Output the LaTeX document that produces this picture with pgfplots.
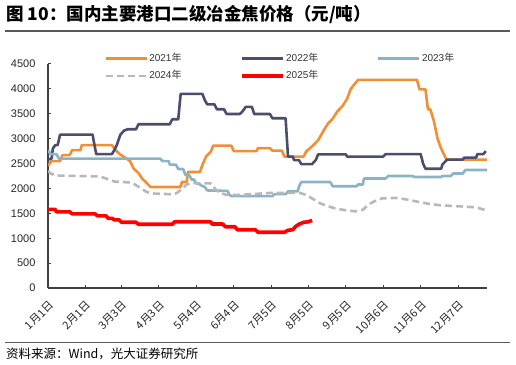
\documentclass[border=0pt]{standalone}
\usepackage{fontspec}
\setmainfont{Liberation Sans}
\newfontfamily\cjk{Noto Sans CJK SC}
\usepackage{pgfplots}
\usepackage{pgfplotstable}
\pgfplotsset{compat=1.18}
\definecolor{c21}{RGB}{242,142,52}
\definecolor{c22}{RGB}{76,76,110}
\definecolor{c23}{RGB}{138,178,200}
\definecolor{c24}{RGB}{184,184,184}
\definecolor{c25}{RGB}{255,0,0}
\definecolor{axc}{RGB}{64,64,64}

\pgfplotstableread{
d v
0 2460
3 2550
10 2550
12 2670
18 2670
20 2770
27 2770
28 2870
53 2870
56 2770
60 2680
65 2600
68 2550
71 2400
75 2310
78 2200
81 2130
85 2030
110 2030
111 2130
115 2130
116 2330
126 2330
128 2470
131 2640
135 2740
137 2860
152 2860
154 2750
173 2750
174 2810
184 2810
186 2760
194 2760
196 2640
212 2640
214 2740
220 2870
224 2970
228 3140
232 3300
236 3400
240 3550
244 3650
248 3800
251 4000
257 4180
306 4180
308 3990
313 3990
315 3590
317 3590
320 3350
323 3000
326 2800
330 2600
331 2580
364 2580
}\tA

\pgfplotstableread{
d v
0 2580
3 2600
4 2800
6 2870
8 2870
10 3080
37 3080
38 2940
40 2690
53 2690
55 2770
57 2870
60 3080
63 3160
66 3190
73 3190
75 3290
101 3290
103 3390
108 3390
110 3900
128 3900
130 3775
132 3690
138 3690
140 3590
146 3590
148 3495
159 3495
161 3540
164 3640
169 3640
171 3495
184 3495
186 3410
197 3410
199 2640
203 2640
204 2570
208 2570
210 2490
219 2490
222 2570
224 2685
247 2685
248 2640
278 2640
280 2690
309 2690
311 2500
313 2395
326 2395
327 2480
331 2580
344 2580
345 2620
355 2620
356 2690
361 2690
363 2750
}\tB

\pgfplotstableread{
d v
0 2770
2 2690
7 2690
9 2600
93 2600
95 2550
100 2550
101 2480
106 2480
108 2390
112 2390
114 2270
117 2270
119 2180
121 2180
123 2100
125 2100
127 2060
130 2030
132 1960
149 1950
150 1885
152 1845
186 1845
188 1885
197 1885
199 1940
207 1940
208 2030
210 2130
234 2130
236 2045
256 2045
257 2080
261 2080
262 2200
280 2200
282 2250
302 2250
304 2230
326 2230
327 2250
334 2250
336 2300
344 2300
346 2370
364 2370
}\tC

\pgfplotstableread{
d v
0 2350
3 2290
7 2260
43 2240
48 2200
55 2140
68 2120
72 2080
76 2020
81 1940
85 1900
97 1890
103 1880
107 1910
111 1990
115 2080
120 2110
135 2100
139 1980
142 1920
148 1870
159 1870
172 1890
184 1910
209 1910
214 1870
219 1800
224 1720
230 1660
238 1600
247 1560
255 1540
261 1570
266 1680
272 1760
277 1800
288 1810
297 1780
305 1740
316 1690
326 1660
342 1640
355 1620
362 1570
}\tD

\pgfplotstableread{
d v
0 1580
6 1580
7 1530
18 1530
20 1490
39 1490
41 1450
48 1450
50 1400
53 1400
55 1370
59 1370
61 1320
73 1320
75 1280
103 1280
105 1330
135 1330
136 1285
145 1285
147 1230
155 1230
157 1170
172 1170
174 1120
196 1120
199 1160
203 1170
205 1230
208 1280
212 1320
216 1330
219 1360
}\tE

\begin{document}
\begin{tikzpicture}
\useasboundingbox (0pt,0pt) rectangle (516pt,364pt);
\node[anchor=base west, inner sep=0pt, font=\cjk\bfseries\fontsize{17.5}{19}\selectfont] at (6pt,343.5pt) {图 10：国内主要港口二级冶金焦价格（元/吨）};
\draw[line width=1.2pt, color=black!65] (5pt,333pt) -- (510pt,333pt);
\draw[line width=1.2pt, color=black!65] (5pt,21.5pt) -- (510pt,21.5pt);
\node[anchor=west, inner sep=0pt, font=\cjk\fontsize{12.5}{14}\selectfont] at (6pt,10.5pt) {资料来源：Wind，光大证券研究所};
\begin{axis}[
  at={(48pt,76pt)}, anchor=south west,
  width=439pt, height=224pt, scale only axis,
  xmin=0, xmax=364, ymin=0, ymax=4500,
  axis x line*=bottom, axis y line*=left,
  axis line style={line width=1.2pt, color=axc, -},
  tick align=inside, major tick length=3pt,
  tick style={line width=1pt, color=axc},
  ytick={0,500,...,4500},
  /pgf/number format/assume math mode=true,
  /pgf/number format/1000 sep={},
  yticklabel style={font=\fontsize{11}{13}\selectfont, color=black!85, xshift=-9pt},
  xtick={0,31,61,92,123,154,185,216,247,278,309,340},
  xticklabels={1月1日,2月1日,3月3日,4月3日,5月4日,6月4日,7月5日,8月5日,9月5日,10月6日,11月6日,12月7日},
  xticklabel style={font=\cjk\fontsize{11}{13}\selectfont, color=black!85, xshift=0pt, yshift=-7pt, rotate=45, anchor=north east},
  legend columns=3,
  legend image code/.code={\draw[#1] (0pt,0pt) -- (41pt,0pt);},
  legend style={at={(0.1276,1.052)}, anchor=north west, draw=none, fill=none,
    inner sep=0pt, row sep=6pt,
    font=\fontsize{10}{12}\selectfont, text=black!80,
    nodes={inner sep=1.5pt, text height=7pt, text depth=1.5pt},
    /tikz/every odd column/.append style={column sep=0pt},
    /tikz/every even column/.append style={column sep=57pt}},
  legend cell align=left,
  every axis plot/.append style={line join=round},
]
\addplot[c21, line width=2.6pt] table[x=d,y=v] {\tA};
\addlegendentry{2021{\cjk 年}}
\addplot[c22, line width=2.6pt] table[x=d,y=v] {\tB};
\addlegendentry{2022{\cjk 年}}
\addplot[c23, line width=2.6pt] table[x=d,y=v] {\tC};
\addlegendentry{2023{\cjk 年}}
\addplot[c24, line width=2.6pt, dash pattern=on 7pt off 4pt] table[x=d,y=v] {\tD};
\addlegendentry{2024{\cjk 年}}
\addplot[c25, line width=3.6pt] table[x=d,y=v] {\tE};
\addlegendentry{2025{\cjk 年}}
\end{axis}
\end{tikzpicture}
\end{document}
